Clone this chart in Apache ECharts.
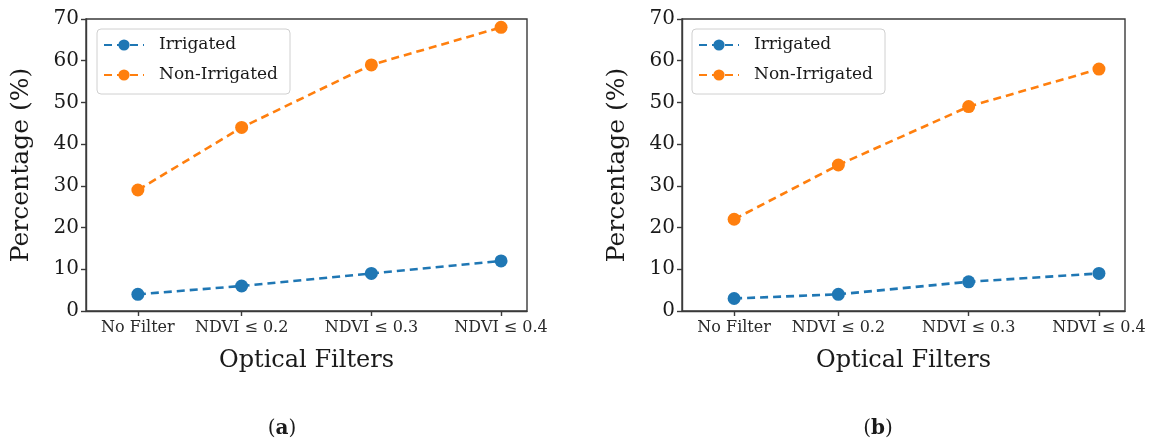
<!DOCTYPE html>
<html>
<head>
<meta charset="utf-8">
<script src="https://cdn.jsdelivr.net/npm/echarts@6/dist/echarts.min.js"></script>
<style>html,body{margin:0;padding:0;background:#fff}#c{width:1153px;height:445px}</style>
</head>
<body>
<div id="c"></div>
<script>
// ---- data ----
const categories = ['No Filter', 'NDVI \u2264 0.2', 'NDVI \u2264 0.3', 'NDVI \u2264 0.4'];
// position of each filter along the x axis (the reference spaces them unevenly)
const filterPos = [0, 0.8, 1.8, 2.8];
const yTicks = [0, 10, 20, 30, 40, 50, 60, 70];
const irrigatedA = [4, 6, 9, 12];
const nonIrrigatedA = [29, 44, 59, 68];
const irrigatedB = [3, 4, 7, 9];
const nonIrrigatedB = [22, 35, 49, 58];
const seriesNames = ['Irrigated', 'Non-Irrigated'];
const panelLabels = ['a', 'b'];

const FONT = 'DejaVu Serif';
const BLUE = '#1f77b4', ORANGE = '#ff7f0e';
const FRAME = '#3a3a3a';

function pts(vals) { return vals.map((v, i) => [filterPos[i], v]); }

function xAxis(gi) {
  return {
    type: 'value', gridIndex: gi, min: -0.4, max: 3.0,
    name: 'Optical Filters', nameLocation: 'middle', nameGap: 38,
    nameTextStyle: { fontFamily: FONT, fontSize: 24, color: '#1a1a1a' },
    axisLine: { show: true, onZero: false, lineStyle: { color: FRAME, width: 1.4 } },
    axisTick: { show: true, customValues: filterPos, length: 5, lineStyle: { color: FRAME, width: 1.4 } },
    axisLabel: {
      customValues: filterPos, margin: 9,
      formatter: v => { const i = filterPos.indexOf(v); return i >= 0 ? categories[i] : ''; },
      fontFamily: FONT, fontSize: 16, color: '#2a2a2a'
    },
    splitLine: { show: false }
  };
}
function yAxis(gi) {
  return {
    type: 'value', gridIndex: gi, min: yTicks[0], max: yTicks[yTicks.length - 1], interval: 10,
    name: 'Percentage (%)', nameLocation: 'middle', nameGap: 52,
    nameTextStyle: { fontFamily: FONT, fontSize: 25, color: '#1a1a1a' },
    axisLine: { show: true, onZero: false, lineStyle: { color: FRAME, width: 1.4 } },
    axisTick: { show: true, length: 5, lineStyle: { color: FRAME, width: 1.4 } },
    axisLabel: { fontFamily: FONT, fontSize: 20, color: '#1a1a1a', margin: 7 },
    splitLine: { show: false }
  };
}
function line(name, color, vals, gi) {
  return {
    type: 'line', name, xAxisIndex: gi, yAxisIndex: gi, data: pts(vals),
    symbol: 'circle', symbolSize: 13, showSymbol: true,
    lineStyle: { color, width: 2.6, type: [8, 5] },
    itemStyle: { color }, z: 3, animation: false
  };
}
function legend(left) {
  return {
    data: seriesNames, orient: 'vertical', left, top: 29,
    backgroundColor: '#fff', borderColor: '#d0d0d0', borderWidth: 1, borderRadius: 4,
    padding: [6, 12, 9, 6], itemGap: 10, itemWidth: 40, itemHeight: 14,
    textStyle: { fontFamily: FONT, fontSize: 17, color: '#1a1a1a', lineHeight: 20, padding: [0, 0, 0, 10] },
    selectedMode: false
  };
}

const chart = echarts.init(document.getElementById('c'), null, { renderer: 'canvas' });
chart.setOption({
  backgroundColor: '#fff',
  animation: false,
  grid: [
    { left: 86, right: 1153 - 527, top: 19, bottom: 445 - 311, show: true, borderColor: FRAME, borderWidth: 1.4 },
    { left: 682, right: 1153 - 1125, top: 19, bottom: 445 - 311, show: true, borderColor: FRAME, borderWidth: 1.4 }
  ],
  legend: [legend(97), legend(692)],
  xAxis: [xAxis(0), xAxis(1)],
  yAxis: [yAxis(0), yAxis(1)],
  series: [
    line(seriesNames[0], BLUE, irrigatedA, 0),
    line(seriesNames[1], ORANGE, nonIrrigatedA, 0),
    line(seriesNames[0], BLUE, irrigatedB, 1),
    line(seriesNames[1], ORANGE, nonIrrigatedB, 1)
  ],
  graphic: [
    { type: 'text', x: 282, y: 429, style: { text: '(' + '{b|' + panelLabels[0] + '})', align: 'center', verticalAlign: 'middle', font: '20px "' + FONT + '"', fill: '#1a1a1a', rich: { b: { fontWeight: 'bold', fontFamily: FONT, fontSize: 20 } } } },
    { type: 'text', x: 878, y: 429, style: { text: '(' + '{b|' + panelLabels[1] + '})', align: 'center', verticalAlign: 'middle', font: '20px "' + FONT + '"', fill: '#1a1a1a', rich: { b: { fontWeight: 'bold', fontFamily: FONT, fontSize: 20 } } } }
  ]
});
</script>
</body>
</html>
